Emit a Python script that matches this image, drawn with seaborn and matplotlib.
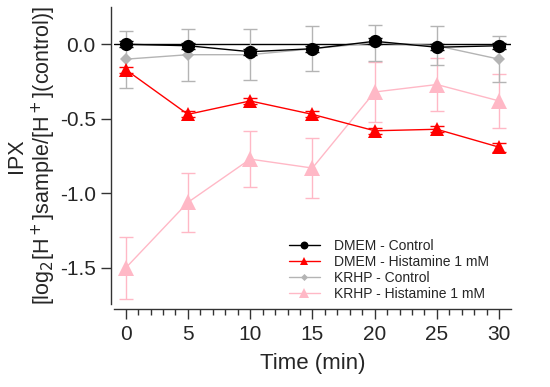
import numpy as np
import pandas as pd
import matplotlib
matplotlib.use("Agg")
import matplotlib.pyplot as plt
from matplotlib.ticker import MultipleLocator
import seaborn as sns

time = [0, 5, 10, 15, 20, 25, 30]

dmem_ctrl = [0.0, -0.01, -0.05, -0.03, 0.02, -0.02, -0.01]
dmem_ctrl_err = [0.02, 0.02, 0.02, 0.02, 0.02, 0.02, 0.02]

dmem_hist = [-0.17, -0.47, -0.38, -0.47, -0.58, -0.57, -0.69]
dmem_hist_err = [0.02, 0.02, 0.02, 0.02, 0.02, 0.02, 0.03]

krhp_ctrl = [-0.10, -0.07, -0.07, -0.03, 0.01, -0.01, -0.10]
krhp_ctrl_err = [0.19, 0.175, 0.17, 0.15, 0.12, 0.13, 0.155]

krhp_hist = [-1.50, -1.06, -0.77, -0.83, -0.32, -0.27, -0.38]
krhp_hist_err = [0.21, 0.20, 0.19, 0.20, 0.20, 0.175, 0.18]

labels = ["DMEM - Control", "DMEM - Histamine 1 mM",
          "KRHP - Control", "KRHP - Histamine 1 mM"]

sns.set_style("ticks")
plt.rcParams['font.family'] = ['Liberation Sans', 'DejaVu Sans']
plt.rcParams['axes.unicode_minus'] = False

fig = plt.figure(figsize=(5.5, 3.87), dpi=100)
ax = fig.add_axes([0.207, 0.215, 0.722, 0.767])

ax.axhline(0, color="black", lw=1, zorder=1)

series = [
    # values, errors, label, color, marker, size, zorder
    (krhp_hist, krhp_hist_err, labels[3], "#ffb8c6", "^", 11, 2),
    (krhp_ctrl, krhp_ctrl_err, labels[2], "#b4b4b4", "D", 6, 3),
    (dmem_hist, dmem_hist_err, labels[1], "#ff0000", "^", 10, 4),
    (dmem_ctrl, dmem_ctrl_err, labels[0], "#000000", "o", 9.5, 5),
]

for vals, errs, lab, col, mk, ms, z in series:
    df = pd.DataFrame({"time": time, "value": vals})
    ax.errorbar(time, vals, yerr=errs, fmt="none", ecolor=col, elinewidth=1,
                capsize=5, capthick=1, zorder=z)
    sns.lineplot(data=df, x="time", y="value", ax=ax, color=col, marker=mk,
                 markersize=ms, markeredgewidth=0, linewidth=1, label=lab,
                 zorder=z)

ax.set_xlim(-0.95, 30.95)
ax.set_ylim(-1.74, 0.25)
ax.set_xticks([0, 5, 10, 15, 20, 25, 30])
ax.xaxis.set_minor_locator(MultipleLocator(1))
ax.set_yticks([0.0, -0.5, -1.0, -1.5])
ax.set_yticklabels(["0.0", "-0.5", "-1.0", "-1.5"])

ax.spines["top"].set_visible(False)
ax.spines["right"].set_visible(False)
ax.spines["left"].set_position(("outward", 2))
ax.spines["bottom"].set_position(("outward", 4))
for s in ["left", "bottom"]:
    ax.spines[s].set_color("#333333")
    ax.spines[s].set_linewidth(1)

ax.tick_params(axis="both", which="major", labelsize=15, length=7, width=1,
               color="#333333", pad=4)
ax.tick_params(axis="x", which="minor", length=4, width=1, color="#333333")

ax.set_xlabel("Time (min)", fontsize=16, labelpad=7)
ax.set_ylabel("IPX\n[log$_2$[H$^+$]sample/[H$^+$](control)]", fontsize=15.5,
              labelpad=1, linespacing=1.15)

handles, labs = ax.get_legend_handles_labels()
order = [labs.index(l) for l in labels]
ax.legend([handles[i] for i in order], [labs[i] for i in order],
          loc="lower left", bbox_to_anchor=(0.41, -0.032), frameon=False,
          fontsize=10, markerscale=0.6, handlelength=2.2, labelspacing=0.15,
          handletextpad=1.0)

fig.savefig("out.png", dpi=100)
